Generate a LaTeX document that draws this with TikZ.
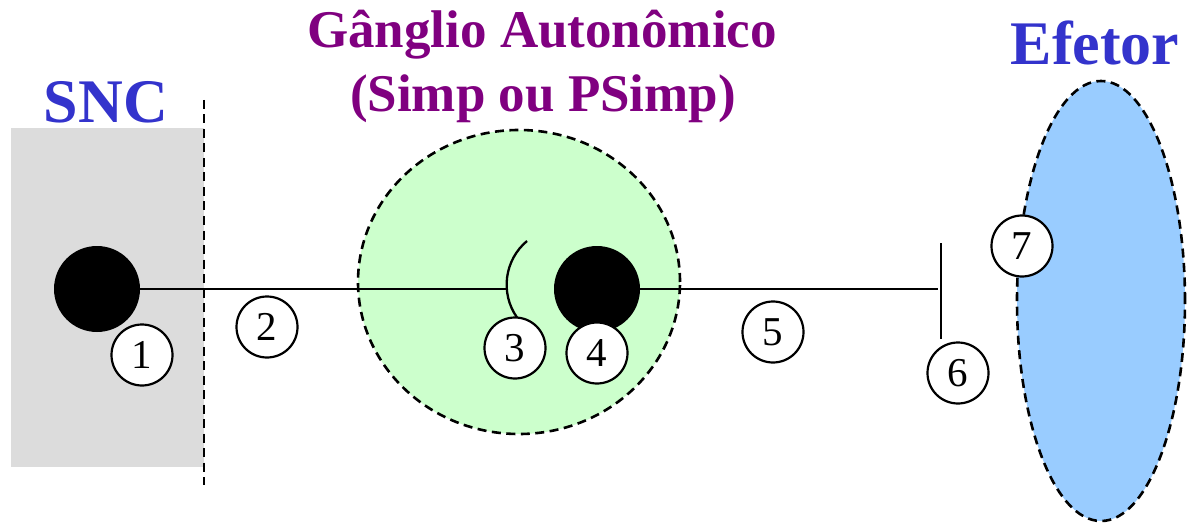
\documentclass[tikz,border=0pt]{standalone}
\usepackage{fontspec}
\setmainfont{Liberation Serif}
\usetikzlibrary{shapes.geometric}
\definecolor{snc}{HTML}{DCDCDC}
\definecolor{gang}{HTML}{CCFFCC}
\definecolor{efe}{HTML}{99CCFF}
\definecolor{titblue}{HTML}{3333CC}
\definecolor{titpurple}{HTML}{800080}
\tikzset{
  numlbl/.style={circle, draw=black, line width=2.2pt, fill=white, minimum size=61pt, inner sep=0pt, font=\fontsize{41}{41}\selectfont},
  soma/.style={circle, fill=black, minimum size=86pt, inner sep=0pt},
  bound/.style={line width=2.6pt, dash pattern=on 9pt off 5.5pt},
  axon/.style={line width=2.3pt},
  titleb/.style={font=\fontsize{62}{62}\selectfont\bfseries, text=titblue, inner sep=0pt, anchor=base},
  titlep/.style={font=\fontsize{53}{64}\selectfont\bfseries, text=titpurple, inner sep=0pt, align=center},
}
\begin{document}
\begin{tikzpicture}[x=1pt,y=-1pt]
\useasboundingbox (0,0) rectangle (1187,524);
% SNC region
\fill[snc] (11,128) rectangle (204,467);
\coordinate (dtop) at (204,100);
\coordinate (dbot) at (204,485);
\draw[bound] (dtop) -- (dbot);
% ganglion
\node[ellipse, fill=gang, draw=black, bound, minimum width=322pt, minimum height=304pt, inner sep=0pt] (gang) at (519,282) {};
% effector
\node[ellipse, fill=efe, draw=black, bound, minimum width=168pt, minimum height=440pt, inner sep=0pt] (efetor) at (1101,301) {};
% titles
\node[titleb] (tsnc) at (106,123) {SNC};
\node[titleb] (tefe) at (1095,65) {Efetor};
\node[titlep, anchor=base] (tg1) at (542,48) {Gânglio Autonômico};
\node[titlep, anchor=base] (tg2) at (543,112) {(Simp ou PSimp)};
% neurons
\node[soma] (n1) at (97,289) {};
\node[soma] (n4) at (597,289) {};
\coordinate (syn) at (507,289);
\coordinate (synA) at (527,241);
\coordinate (term) at (938,289);
\coordinate (ttop) at (941,243);
\coordinate (tbot) at (941,339);
\draw[axon] (n1.east) -- (syn);
\draw[axon] (synA) arc[start angle=230, end angle=145, radius=57];
\draw[axon] (n4.east) -- (term);
\draw[axon] (ttop) -- (tbot);
% number labels
\node[numlbl] (l1) at (142,355) {1};
\node[numlbl] (l2) at (267,327) {2};
\node[numlbl] (l3) at (515,348) {3};
\node[numlbl] (l4) at (597,353) {4};
\node[numlbl] (l5) at (773,332) {5};
\node[numlbl] (l6) at (958,373) {6};
\node[numlbl] (l7) at (1022,246) {7};
\end{tikzpicture}
\end{document}
